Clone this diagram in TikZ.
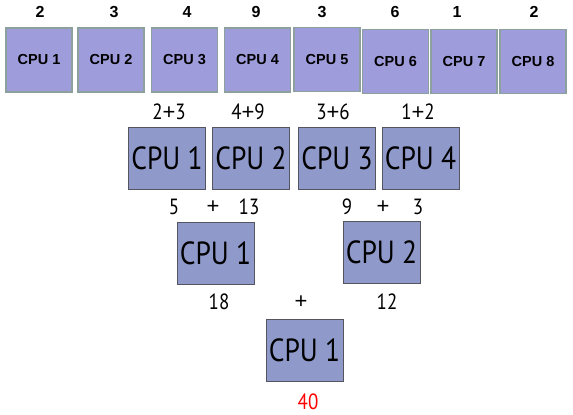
\documentclass[tikz,border=0pt]{standalone}
\usepackage{fontspec}
\setmainfont{PT Sans}
\newfontfamily\arialfont{Liberation Sans}
\newfontfamily\cpufont[FakeStretch=0.86]{PT Sans}
\newcommand{\plussign}{{\arialfont +}}
\definecolor{topfill}{RGB}{159,156,220}
\definecolor{topdraw}{RGB}{140,160,158}
\definecolor{lowfill}{RGB}{143,154,203}
\definecolor{lowdraw}{RGB}{85,85,95}
\definecolor{resred}{RGB}{255,0,0}
\tikzset{
  topbox/.style={draw=topdraw, fill=topfill, line width=1.5pt, minimum width=66pt, minimum height=64pt, inner sep=0pt, font=\arialfont\bfseries\fontsize{14.5}{15}\selectfont},
  toplabel/.style={inner sep=0pt, font=\arialfont\bfseries\fontsize{16}{17}\selectfont},
  cpubox/.style={draw=lowdraw, fill=lowfill, line width=1pt, minimum width=77pt, minimum height=62pt, inner sep=0pt, font=\cpufont\fontsize{32}{34}\selectfont},
  sumlabel/.style={inner sep=0pt, font=\cpufont\fontsize{22}{24}\selectfont},
}
\begin{document}
\begin{tikzpicture}[x=1pt,y=-1pt]
\useasboundingbox (0,0) rectangle (573,415);
% top row
\node[topbox] (a1) at (39,60) {CPU 1};
\node[topbox] (a2) at (111,60) {CPU 2};
\node[topbox] (a3) at (184.5,60) {CPU 3};
\node[topbox] (a4) at (257.5,60) {CPU 4};
\node[topbox] (a5) at (327,59.5) {CPU 5};
\node[topbox] (a6) at (395.5,61.5) {CPU 6};
\node[topbox] (a7) at (464,61.5) {CPU 7};
\node[topbox] (a8) at (533,61.5) {CPU 8};
\node[toplabel] (la1) at (40,12) {2};
\node[toplabel] (la2) at (114,12) {3};
\node[toplabel] (la3) at (187,12) {4};
\node[toplabel] (la4) at (256,12) {9};
\node[toplabel] (la5) at (322,12) {3};
\node[toplabel] (la6) at (395,12) {6};
\node[toplabel] (la7) at (457,12) {1};
\node[toplabel] (la8) at (534,12) {2};
% second row
\node[sumlabel] (lb1) at (169,112) {2\plussign3};
\node[sumlabel] (lb2) at (248,112) {4\plussign9};
\node[sumlabel] (lb3) at (333,112) {3\plussign6};
\node[sumlabel] (lb4) at (418,112) {1\plussign2};
\node[cpubox] (b1) at (167,158) {CPU 1};
\node[cpubox] (b2) at (251,158) {CPU 2};
\node[cpubox] (b3) at (337,158) {CPU 3};
\node[cpubox] (b4) at (420.5,158) {CPU 4};
% third row
\node[sumlabel] (lc1) at (174,207) {5};
\node[sumlabel] (lc2) at (213,207) {\plussign};
\node[sumlabel] (lc3) at (249,207) {13};
\node[sumlabel] (lc4) at (347,207) {9};
\node[sumlabel] (lc5) at (383,207) {\plussign};
\node[sumlabel] (lc6) at (418,207) {3};
\node[cpubox] (c1) at (215.5,253.5) {CPU 1};
\node[cpubox] (c2) at (381.5,252.5) {CPU 2};
% fourth row
\node[sumlabel] (ld1) at (219,302) {18};
\node[sumlabel] (ld2) at (301,302) {\plussign};
\node[sumlabel] (ld3) at (387,302) {12};
\node[cpubox] (d1) at (304.5,350) {CPU 1};
\node[sumlabel, text=resred] (ld4) at (308,402) {40};
\end{tikzpicture}
\end{document}
